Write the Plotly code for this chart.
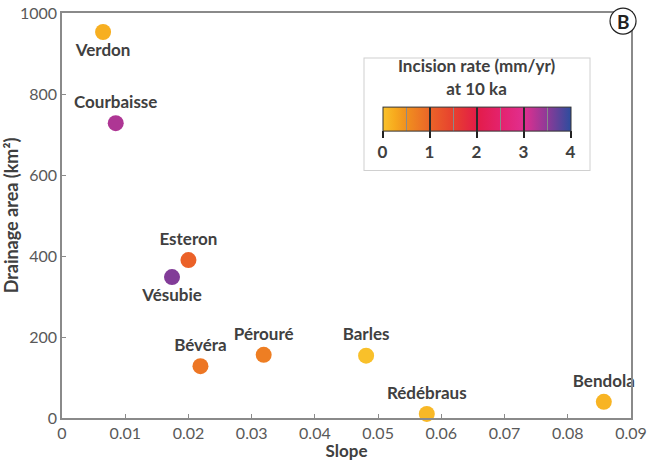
import plotly.graph_objects as go
from plotly.colors import sample_colorscale

# Catchments: slope, drainage area (km2), incision rate at 10 ka (mm/yr)
rivers = ["Verdon", "Courbaisse", "Esteron", "Vésubie", "Bévéra",
          "Pérouré", "Barles", "Rédébraus", "Bendola"]
slope = [0.0065, 0.0085, 0.0200, 0.0174, 0.0219, 0.0319, 0.0481, 0.0577, 0.0857]
area = [953, 728, 390, 348, 128, 156, 154, 10, 40]
incision = [0.2, 3.3, 1.05, 3.55, 0.8, 0.7, 0.02, 0.1, 0.15]
label_pos = ["bottom center", "top center", "top center", "bottom center",
             "top center", "top center", "top center", "top center", "top center"]

FONT = "Lato"
TXT = "#404040"
TICK = "#595959"

# base colour ramp: yellow -> orange -> red -> magenta -> purple -> blue
base = [[0.0, "#F9C22B"], [0.0625, "#F7AA1E"], [0.125, "#F0901F"],
        [0.25, "#EB6428"], [0.375, "#E7402F"], [0.5, "#E31C48"],
        [0.625, "#E4226E"], [0.75, "#E12F8F"], [0.875, "#8C3A98"],
        [1.0, "#2C4D9E"]]


# thin separator lines inside the colour bar (dark at integers, grey at halves)
def with_dividers(scale, w=0.005):
    divs = [(i / 8, "#2a2a2a" if i % 2 == 0 else "#8a8a8a") for i in range(1, 8)]

    def col_at(v):
        return sample_colorscale(scale, [v], colortype="rgb")[0]

    out = []
    for v, c in scale:
        # keep base stops that don't fall inside a divider
        if any(p - w <= v <= p + w for p, _ in divs):
            continue
        out.append([v, c])
    for p, c in divs:
        out += [[p - w, col_at(p - w)], [p - w, c], [p + w, c], [p + w, col_at(p + w)]]
    out.sort(key=lambda s: s[0])
    return out


cscale = with_dividers(base)

fig = go.Figure()

fig.add_trace(go.Scatter(
    x=slope,
    y=area,
    mode="markers+text",
    text=rivers,
    textposition=label_pos,
    textfont=dict(family=FONT, size=17, color=TXT, weight="bold"),
    cliponaxis=False,
    marker=dict(
        size=16,
        color=incision,
        cmin=0, cmax=4,
        colorscale=cscale,
        line_width=0,
        colorbar=dict(
            orientation="h",
            x=0.7285, xanchor="center",
            y=0.89, yanchor="top",
            len=0.394, lenmode="fraction",
            thickness=24,
            outlinewidth=1, outlinecolor="#333333",
            tickvals=[0, 1, 2, 3, 4],
            ticks="outside", ticklen=7, tickcolor="#222222", tickwidth=1.5,
            tickfont=dict(family=FONT, size=17, color=TXT, weight="bold"),
            title=dict(text="Incision rate (mm/yr)<br>at 10 ka", side="top",
                       font=dict(family=FONT, size=17, color=TXT, weight="bold")),
            bgcolor="white",
            bordercolor="#d0d0d0", borderwidth=1,
            xpad=18, ypad=6,
        ),
    ),
    showlegend=False,
    hoverinfo="skip",
))

# circled panel letter in the top-right corner
fig.add_shape(type="circle", xref="paper", yref="paper",
              xsizemode="pixel", ysizemode="pixel", xanchor=0.986, yanchor=0.98,
              x0=-13, x1=13, y0=-13, y1=13,
              fillcolor="white", line=dict(color="#222222", width=1.2), layer="above")
fig.add_annotation(text="<b>B</b>", xref="paper", yref="paper", x=0.986, y=0.98,
                   xanchor="center", yanchor="middle",
                   showarrow=False, font=dict(family=FONT, size=19, color="#222222"))

axis_common = dict(
    showline=True, mirror=True, linecolor="#8a8a8a", linewidth=1.5,
    ticks="inside", ticklen=4, tickcolor="#8a8a8a",
    showgrid=False, zeroline=False,
    tickfont=dict(family=FONT, size=16, color=TICK),
)

fig.update_layout(
    width=651, height=461,
    margin=dict(l=62, r=20, t=13, b=43, autoexpand=False),
    paper_bgcolor="white", plot_bgcolor="white",
    xaxis=dict(range=[0, 0.09], dtick=0.01, tickformat="~g",
               title=dict(text="<b>Slope</b>", standoff=4,
                          font=dict(family=FONT, size=17, color=TXT)),
               **axis_common),
    yaxis=dict(range=[0, 1000], dtick=200,
               title=dict(text="<b>Drainage area (km²)</b>", standoff=3,
                          font=dict(family=FONT, size=18, color=TXT)),
               **axis_common),
)

# the page's default body margin would push the figure off the window
fig.write_html("out.html", config={"displayModeBar": False},
               post_script="document.body.style.margin='0';")
